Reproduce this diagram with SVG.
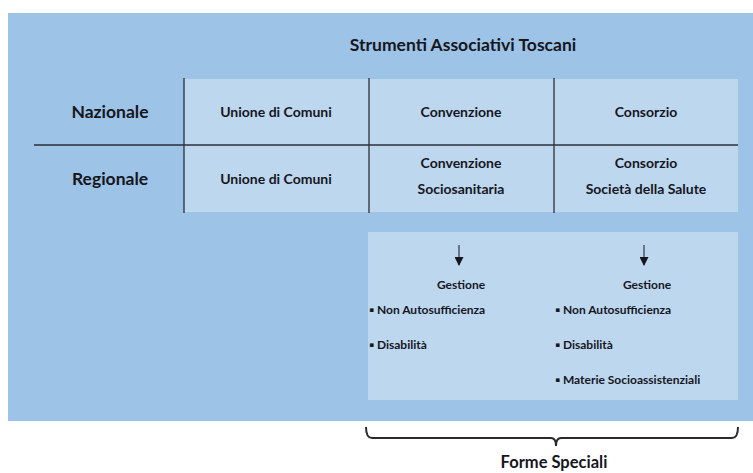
<svg xmlns="http://www.w3.org/2000/svg" width="753" height="473" viewBox="0 0 753 473">
<defs>
<style>
text{font-family:Lato,"Open Sans","Liberation Sans",sans-serif;font-weight:bold;fill:#16161e;text-anchor:middle}
.cell{fill:#bdd7ee}
.ln{stroke:#2e2e38;stroke-width:1.3;fill:none}
.hd{font-size:17.5px}
.rl{font-size:17.5px}
.c{font-size:14px}
.s{font-size:12px;text-anchor:start}
.g{font-size:12px}
</style>
<marker id="ah" viewBox="0 0 10 10" refX="9" refY="5" markerWidth="10" markerHeight="9" markerUnits="userSpaceOnUse" orient="auto">
<path d="M0,0 L10,5 L0,10 Z" fill="#16161e"/>
</marker>
</defs>
<rect x="0" y="0" width="753" height="473" fill="#ffffff"/>
<rect id="panel" x="8" y="13" width="745" height="408" fill="#9dc3e6"/>
<text class="hd" x="463" y="51">Strumenti Associativi Toscani</text>
<g id="row-labels">
<text class="rl" x="110" y="118">Nazionale</text>
<text class="rl" x="110" y="185">Regionale</text>
</g>
<g id="cells">
<rect class="cell" x="184" y="79" width="554" height="133"/>
</g>
<g id="grid">
<line class="ln" x1="184" y1="78" x2="184" y2="213"/>
<line class="ln" x1="369" y1="78" x2="369" y2="213"/>
<line class="ln" x1="554" y1="78" x2="554" y2="213"/>
<line class="ln" x1="34" y1="145" x2="738" y2="145"/>
</g>
<g id="n-unione-naz"><text class="c" x="276" y="117">Unione di Comuni</text></g>
<g id="n-conv-naz"><text class="c" x="461" y="117">Convenzione</text></g>
<g id="n-cons-naz"><text class="c" x="646" y="117">Consorzio</text></g>
<g id="n-unione-reg"><text class="c" x="276" y="184">Unione di Comuni</text></g>
<g id="n-conv-reg"><text class="c" x="461" y="168">Convenzione</text><text class="c" x="461" y="194">Sociosanitaria</text></g>
<g id="n-cons-reg"><text class="c" x="646" y="168">Consorzio</text><text class="c" x="646" y="194">Società della Salute</text></g>
<g id="n-gestione">
<rect class="cell" x="368" y="232" width="370" height="168"/>
<text class="g" x="461" y="289">Gestione</text>
<text class="s" x="369" y="314">▪ Non Autosufficienza</text>
<text class="s" x="369" y="349">▪ Disabilità</text>
<text class="g" x="647" y="289">Gestione</text>
<text class="s" x="555" y="314">▪ Non Autosufficienza</text>
<text class="s" x="555" y="349">▪ Disabilità</text>
<text class="s" x="555" y="384">▪ Materie Socioassistenziali</text>
</g>
<g id="connectors">
<line x1="459" y1="245" x2="459" y2="265" stroke="#16161e" stroke-width="1" marker-end="url(#ah)"/>
<line x1="644" y1="245" x2="644" y2="265" stroke="#16161e" stroke-width="1" marker-end="url(#ah)"/>
<path d="M366,427 Q366,438 372,438 L551,438 Q556,438 556,446 Q556,438 561,438 L732,438 Q738,438 738,427" fill="none" stroke="#2a2a2a" stroke-width="2"/>
</g>
<g id="n-forme"><text x="554" y="468" style="font-size:16.5px">Forme Speciali</text></g>
</svg>
